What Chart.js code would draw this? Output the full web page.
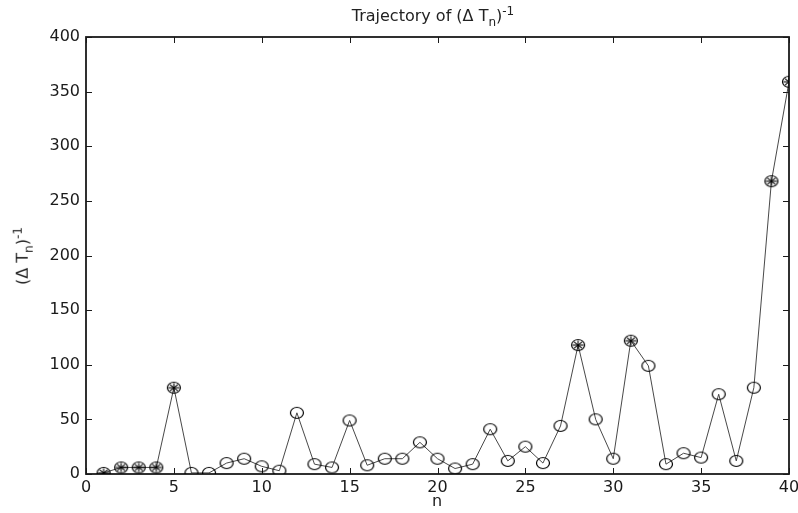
<!DOCTYPE html>
<html>
<head>
<meta charset="utf-8">
<script src="https://cdn.jsdelivr.net/npm/chart.js@4.4.1/dist/chart.umd.min.js"></script>
<style>
  body { margin: 0; background: #fff; }
  #wrap { position: relative; width: 798px; height: 513px; font-family: "DejaVu Sans", sans-serif; color: #222; }
  #title { position: absolute; left: 333px; width: 200px; top: -1px; text-align: center; font-size: 16px; line-height: 24px; }
  #xlabel { position: absolute; left: 432px; top: 492px; font-size: 16px; line-height: 18px; }
  #ylabel { position: absolute; left: 23px; top: 256px; font-size: 16px; line-height: 24px; white-space: nowrap;
            transform: translate(-50%, -50%) rotate(-90deg); }
  sub, sup { font-size: 12px; }
</style>
</head>
<body>
<div id="wrap">
  <canvas id="chart" width="798" height="513"></canvas>
  <div id="title">Trajectory of (&Delta; T<sub>n</sub>)<sup>-1</sup></div>
  <div id="ylabel">(&Delta; T<sub>n</sub>)<sup>-1</sup></div>
  <div id="xlabel">n</div>
</div>
<script>
"use strict";

// values
const steps = [1, 2, 3, 4, 5, 6, 7, 8, 9, 10, 11, 12, 13, 14, 15, 16, 17, 18, 19, 20,
  21, 22, 23, 24, 25, 26, 27, 28, 29, 30, 31, 32, 33, 34, 35, 36, 37, 38, 39, 40];
const invDeltaT = [1, 6, 6, 6, 79, 1, 1, 10, 14, 7, 3, 56, 9, 6, 49, 8, 14, 14, 29, 14,
  5, 9, 41, 12, 25, 10, 44, 118, 50, 14, 122, 99, 9, 19, 15, 73, 12, 79, 268, 359];
// points drawn with the asterisk marker
const starred = [1, 2, 3, 4, 5, 28, 31, 39, 40];
const xTicks = [0, 5, 10, 15, 20, 25, 30, 35, 40];
const yTicks = [0, 50, 100, 150, 200, 250, 300, 350, 400];

const ink = "#1a1a1a";

// hollow ellipse marker, optionally with asterisk inside
function makeMarker(star) {
  const c = document.createElement("canvas");
  c.width = 16;
  c.height = 14;
  const g = c.getContext("2d");
  g.strokeStyle = "#000";
  g.lineWidth = 1.2;
  g.beginPath();
  g.ellipse(8, 7, 6.5, 5.5, 0, 0, Math.PI * 2);
  g.stroke();
  if (star) {
    g.lineWidth = 1.1;
    for (let k = 0; k < 4; k++) {
      const a = (k * Math.PI) / 4;
      g.beginPath();
      g.moveTo(8 - Math.cos(a) * 5.5, 7 - Math.sin(a) * 4.5);
      g.lineTo(8 + Math.cos(a) * 5.5, 7 + Math.sin(a) * 4.5);
      g.stroke();
    }
  }
  return c;
}
const plainMarker = makeMarker(false);
const starMarker = makeMarker(true);

// matlab style box with inward ticks
const boxTicks = {
  id: "boxTicks",
  beforeDatasetsDraw(chart) {
    const { ctx, chartArea: a, scales } = chart;
    ctx.save();
    ctx.strokeStyle = ink;
    ctx.lineWidth = 1;
    xTicks.forEach((v) => {
      const px = Math.round(scales.x.getPixelForValue(v)) + 0.5;
      ctx.beginPath();
      ctx.moveTo(px, a.bottom);
      ctx.lineTo(px, a.bottom - 6);
      ctx.moveTo(px, a.top);
      ctx.lineTo(px, a.top + 6);
      ctx.stroke();
    });
    yTicks.forEach((v) => {
      const py = Math.round(scales.y.getPixelForValue(v)) + 0.5;
      ctx.beginPath();
      ctx.moveTo(a.left, py);
      ctx.lineTo(a.left + 6, py);
      ctx.moveTo(a.right, py);
      ctx.lineTo(a.right - 6, py);
      ctx.stroke();
    });
    ctx.lineWidth = 1.8;
    ctx.strokeRect(a.left, a.top, a.right - a.left, a.bottom - a.top);
    ctx.restore();
  },
};

const points = steps.map((n, i) => ({ x: n, y: invDeltaT[i] }));
const tickFont = { family: "DejaVu Sans", size: 16 };

new Chart(document.getElementById("chart"), {
  type: "line",
  data: {
    datasets: [
      {
        data: points,
        borderColor: "#333",
        borderWidth: 0.9,
        tension: 0,
        pointStyle: steps.map((n) => (starred.includes(n) ? starMarker : plainMarker)),
        pointRadius: 6,
      },
    ],
  },
  options: {
    responsive: false,
    animation: false,
    events: [],
    layout: { padding: { top: 37, right: 9, left: 0, bottom: 0 } },
    plugins: { legend: { display: false }, tooltip: { enabled: false } },
    scales: {
      x: {
        type: "linear",
        min: 0,
        max: 40,
        afterBuildTicks: (s) => { s.ticks = xTicks.map((v) => ({ value: v })); },
        grid: { display: false, tickLength: 0 },
        border: { display: false },
        ticks: { color: ink, font: tickFont, padding: 4, maxRotation: 0 },
        afterFit: (s) => { s.height = 39; s.paddingLeft = 0; s.paddingRight = 0; },
      },
      y: {
        min: 0,
        max: 400,
        afterBuildTicks: (s) => { s.ticks = yTicks.map((v) => ({ value: v })); },
        grid: { display: false, tickLength: 0 },
        border: { display: false },
        ticks: { color: ink, font: tickFont, padding: 6 },
        afterFit: (s) => { s.width = 86; s.paddingTop = 0; s.paddingBottom = 0; },
      },
    },
  },
  plugins: [boxTicks],
});
</script>
</body>
</html>
